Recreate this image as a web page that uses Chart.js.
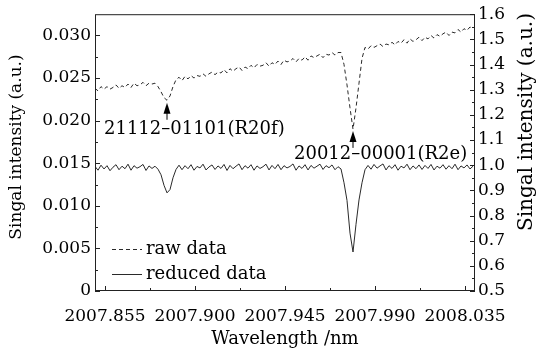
<!DOCTYPE html>
<html>
<head>
<meta charset="utf-8">
<script src="https://cdn.jsdelivr.net/npm/chart.js@4.4.1/dist/chart.umd.min.js"></script>
<style>
  html, body { margin: 0; padding: 0; background: #fff; }
</style>
</head>
<body>
<canvas id="grafica" width="538" height="350"></canvas>
<script>
// Longitud de onda (nm), comun a las dos series
const longitudOnda = [
  2007.8500, 2007.8515, 2007.8530, 2007.8545, 2007.8560, 2007.8575, 2007.8590, 2007.8605,
  2007.8620, 2007.8635, 2007.8650, 2007.8665, 2007.8680, 2007.8695, 2007.8710, 2007.8725,
  2007.8740, 2007.8755, 2007.8770, 2007.8785, 2007.8800, 2007.8815, 2007.8830, 2007.8845,
  2007.8860, 2007.8875, 2007.8890, 2007.8905, 2007.8920, 2007.8935, 2007.8950, 2007.8965,
  2007.8980, 2007.8995, 2007.9010, 2007.9025, 2007.9040, 2007.9055, 2007.9070, 2007.9085,
  2007.9100, 2007.9115, 2007.9130, 2007.9145, 2007.9160, 2007.9175, 2007.9190, 2007.9205,
  2007.9220, 2007.9235, 2007.9250, 2007.9265, 2007.9280, 2007.9295, 2007.9310, 2007.9325,
  2007.9340, 2007.9355, 2007.9370, 2007.9385, 2007.9400, 2007.9415, 2007.9430, 2007.9445,
  2007.9460, 2007.9475, 2007.9490, 2007.9505, 2007.9520, 2007.9535, 2007.9550, 2007.9565,
  2007.9580, 2007.9595, 2007.9610, 2007.9625, 2007.9640, 2007.9655, 2007.9670, 2007.9685,
  2007.9700, 2007.9715, 2007.9730, 2007.9745, 2007.9760, 2007.9775, 2007.9790, 2007.9805,
  2007.9820, 2007.9835, 2007.9850, 2007.9865, 2007.9880, 2007.9895, 2007.9910, 2007.9925,
  2007.9940, 2007.9955, 2007.9970, 2007.9985, 2008.0000, 2008.0015, 2008.0030, 2008.0045,
  2008.0060, 2008.0075, 2008.0090, 2008.0105, 2008.0120, 2008.0135, 2008.0150, 2008.0165,
  2008.0180, 2008.0195, 2008.0210, 2008.0225, 2008.0240, 2008.0255, 2008.0270, 2008.0285,
  2008.0300, 2008.0315, 2008.0330, 2008.0345, 2008.0360, 2008.0375, 2008.0390
];

// raw data (eje izquierdo)
const datosCrudos = [
  0.0238, 0.0235, 0.0240, 0.0237, 0.0240, 0.0237, 0.0239, 0.0242,
  0.0238, 0.0241, 0.0239, 0.0243, 0.0239, 0.0244, 0.0241, 0.0242,
  0.0245, 0.0241, 0.0244, 0.0243, 0.0244, 0.0240, 0.0234, 0.0227,
  0.0224, 0.0229, 0.0240, 0.0248, 0.0251, 0.0247, 0.0252, 0.0249,
  0.0253, 0.0250, 0.0253, 0.0252, 0.0255, 0.0252, 0.0255, 0.0257,
  0.0254, 0.0257, 0.0256, 0.0260, 0.0256, 0.0261, 0.0258, 0.0261,
  0.0263, 0.0259, 0.0263, 0.0261, 0.0265, 0.0262, 0.0266, 0.0264,
  0.0265, 0.0268, 0.0264, 0.0268, 0.0266, 0.0270, 0.0266, 0.0271,
  0.0269, 0.0270, 0.0273, 0.0269, 0.0273, 0.0271, 0.0275, 0.0271,
  0.0276, 0.0274, 0.0276, 0.0278, 0.0274, 0.0278, 0.0277, 0.0280,
  0.0277, 0.0280, 0.0280, 0.0266, 0.0242, 0.0215, 0.0190, 0.0215,
  0.0244, 0.0273, 0.0286, 0.0284, 0.0288, 0.0286, 0.0288, 0.0290,
  0.0287, 0.0290, 0.0289, 0.0292, 0.0289, 0.0293, 0.0291, 0.0295,
  0.0291, 0.0296, 0.0293, 0.0295, 0.0298, 0.0294, 0.0298, 0.0296,
  0.0300, 0.0297, 0.0301, 0.0299, 0.0302, 0.0304, 0.0300, 0.0304,
  0.0303, 0.0307, 0.0304, 0.0308, 0.0306, 0.0310, 0.0308
];

// reduced data (eje derecho)
const datosReducidos = [
  0.995, 0.980, 1.000, 0.985, 0.998, 0.978, 0.992, 1.002,
  0.982, 0.996, 0.986, 1.004, 0.980, 0.998, 0.988, 0.994,
  1.003, 0.979, 0.997, 0.987, 0.996, 0.984, 0.962, 0.920,
  0.890, 0.903, 0.950, 0.983, 1.000, 0.982, 0.998, 0.986,
  1.002, 0.980, 0.995, 0.989, 1.004, 0.981, 0.993, 1.001,
  0.983, 0.997, 0.987, 1.003, 0.979, 0.999, 0.986, 0.996,
  1.005, 0.982, 0.998, 0.988, 1.002, 0.980, 0.997, 0.987,
  0.994, 1.004, 0.981, 0.999, 0.986, 1.003, 0.982, 0.998,
  0.989, 0.995, 1.005, 0.980, 0.997, 0.987, 1.002, 0.981,
  0.999, 0.988, 0.996, 1.004, 0.983, 0.998, 0.990, 1.001,
  0.982, 0.994, 0.985, 0.930, 0.860, 0.730, 0.655, 0.765,
  0.862, 0.930, 0.982, 0.999, 0.984, 1.003, 0.988, 0.997,
  1.005, 0.981, 0.998, 0.987, 1.002, 0.980, 0.996, 0.989,
  1.004, 0.982, 0.997, 0.986, 1.001, 0.983, 0.999, 0.987,
  1.003, 0.981, 0.996, 0.988, 1.002, 0.984, 0.998, 0.986,
  1.004, 0.982, 0.997, 0.989, 1.001, 0.985, 0.996
];

// Marcas de los ejes
const ticksX = [2007.855, 2007.900, 2007.945, 2007.990, 2008.035];
const ticksIzq = [0, 0.005, 0.010, 0.015, 0.020, 0.025, 0.030];
const ticksDer = [0.5, 0.6, 0.7, 0.8, 0.9, 1.0, 1.1, 1.2, 1.3, 1.4, 1.5, 1.6];

// Etiquetas de las lineas (posicion en unidades del eje izquierdo)
const notas = [
  { texto: "21112\u201301101(R20f)", x: 2007.886, y: 0.0221, dx: -63, dy: 27 },
  { texto: "20012\u201300001(R2e)", x: 2007.979, y: 0.0188, dx: -59, dy: 23 },
];

const FUENTE = "'DejaVu Serif', serif";
const NEGRO = "#000";
const LINEA = "#2a2a2a";

Chart.defaults.font.family = FUENTE;
Chart.defaults.color = NEGRO;

// Marco, marcas hacia dentro, leyenda, notas y titulos de los ejes Y
const extras = {
  id: "extras",
  afterDraw(chart) {
    const { ctx, chartArea: a, scales } = chart;
    ctx.save();
    ctx.strokeStyle = NEGRO;
    ctx.fillStyle = NEGRO;
    ctx.lineWidth = 1;
    ctx.setLineDash([]);

    // marco
    ctx.strokeStyle = "#222";
    ctx.strokeRect(a.left + 0.5, a.top + 0.5, a.right - a.left - 1, a.bottom - a.top - 1);

    const linea = (x1, y1, x2, y2) => {
      ctx.beginPath();
      ctx.moveTo(x1, y1);
      ctx.lineTo(x2, y2);
      ctx.stroke();
    };

    // eje X
    const sx = scales.x;
    ticksX.forEach((v, i) => {
      const px = Math.round(sx.getPixelForValue(v)) + 0.5;
      linea(px, a.bottom, px, a.bottom - 5);
      if (i < ticksX.length - 1) {
        const pm = Math.round(sx.getPixelForValue((v + ticksX[i + 1]) / 2)) + 0.5;
        linea(pm, a.bottom, pm, a.bottom - 3);
      }
    });

    // eje izquierdo
    const si = scales.yIzq;
    ticksIzq.forEach((v) => {
      const py = Math.round(si.getPixelForValue(v)) + 0.5;
      linea(a.left, py, a.left + 5, py);
      const m = v + 0.0025;
      if (m < si.max) {
        const pm = Math.round(si.getPixelForValue(m)) + 0.5;
        linea(a.left, pm, a.left + 3, pm);
      }
    });

    // eje derecho
    const sd = scales.yDer;
    ticksDer.forEach((v, i) => {
      const py = Math.round(sd.getPixelForValue(v)) + 0.5;
      linea(a.right, py, a.right - 5, py);
      if (i < ticksDer.length - 1) {
        const pm = Math.round(sd.getPixelForValue(v + 0.05)) + 0.5;
        linea(a.right, pm, a.right - 3, pm);
      }
    });

    // leyenda
    ctx.font = "18px " + FUENTE;
    ctx.textBaseline = "middle";
    ctx.textAlign = "left";
    const lx = a.left + 17;
    const filas = [
      { texto: "raw data", y: a.bottom - 42, dash: [4, 3] },
      { texto: "reduced data", y: a.bottom - 17, dash: [] },
    ];
    filas.forEach((f) => {
      ctx.strokeStyle = LINEA;
      ctx.setLineDash(f.dash);
      linea(lx, f.y + 0.5, lx + 30, f.y + 0.5);
      ctx.setLineDash([]);
      ctx.fillText(f.texto, lx + 34, f.y);
    });

    // notas con flecha
    ctx.strokeStyle = NEGRO;
    notas.forEach((n) => {
      const px = sx.getPixelForValue(n.x);
      const py = si.getPixelForValue(n.y);
      ctx.beginPath();
      ctx.moveTo(px, py);
      ctx.lineTo(px - 3.5, py + 11);
      ctx.lineTo(px + 3.5, py + 11);
      ctx.closePath();
      ctx.fill();
      linea(px, py + 8, px, py + 17);
      ctx.fillText(n.texto, px + n.dx, py + n.dy);
    });

    // titulos de los ejes Y
    ctx.textAlign = "center";
    ctx.save();
    ctx.translate(17, 147);
    ctx.rotate(-Math.PI / 2);
    ctx.font = "17px " + FUENTE;
    ctx.fillText("Singal intensity (a.u.)", 0, 0);
    ctx.restore();
    ctx.save();
    ctx.translate(527, 122);
    ctx.rotate(-Math.PI / 2);
    ctx.font = "20px " + FUENTE;
    ctx.fillText("Singal intensity (a.u.)", 0, 0);
    ctx.restore();

    ctx.restore();
  },
};

new Chart(document.getElementById("grafica"), {
  type: "line",
  data: {
    datasets: [
      {
        label: "raw data",
        data: longitudOnda.map((x, i) => ({ x, y: datosCrudos[i] })),
        yAxisID: "yIzq",
        borderColor: LINEA,
        borderWidth: 1,
        borderDash: [4, 3],
        pointRadius: 0,
        tension: 0,
      },
      {
        label: "reduced data",
        data: longitudOnda.map((x, i) => ({ x, y: datosReducidos[i] })),
        yAxisID: "yDer",
        borderColor: LINEA,
        borderWidth: 1,
        pointRadius: 0,
        tension: 0,
      },
    ],
  },
  options: {
    responsive: false,
    animation: false,
    layout: { padding: { top: 12, left: 0, right: 0, bottom: 0 } },
    plugins: { legend: { display: false }, tooltip: { enabled: false } },
    scales: {
      x: {
        type: "linear",
        min: 2007.85,
        max: 2008.04,
        afterBuildTicks: (s) => { s.ticks = ticksX.map((v) => ({ value: v })); },
        afterFit: (s) => { s.height = 59; },
        grid: { display: false, drawTicks: false },
        border: { display: false },
        ticks: {
          autoSkip: false,
          maxRotation: 0,
          padding: 15,
          color: NEGRO,
          font: { size: 17 },
          callback: (v) => Number(v).toFixed(3),
        },
        title: {
          display: true,
          text: "Wavelength /nm",
          color: NEGRO,
          font: { size: 18 },
          padding: { top: 0, bottom: 0 },
        },
      },
      yIzq: {
        type: "linear",
        position: "left",
        min: 0,
        max: 0.0325,
        afterBuildTicks: (s) => { s.ticks = ticksIzq.map((v) => ({ value: v })); },
        afterFit: (s) => { s.width = 95; },
        grid: { display: false, drawTicks: false },
        border: { display: false },
        ticks: {
          padding: 4,
          color: NEGRO,
          font: { size: 17 },
          callback: (v) => (v === 0 ? "0" : Number(v).toFixed(3)),
        },
      },
      yDer: {
        type: "linear",
        position: "right",
        min: 0.5,
        max: 1.6,
        afterBuildTicks: (s) => { s.ticks = ticksDer.map((v) => ({ value: v })); },
        afterFit: (s) => { s.width = 63; },
        grid: { display: false, drawTicks: false },
        border: { display: false },
        ticks: {
          padding: 3,
          color: NEGRO,
          font: { size: 17 },
          callback: (v) => Number(v).toFixed(1),
        },
      },
    },
  },
  plugins: [extras],
});
</script>
</body>
</html>
